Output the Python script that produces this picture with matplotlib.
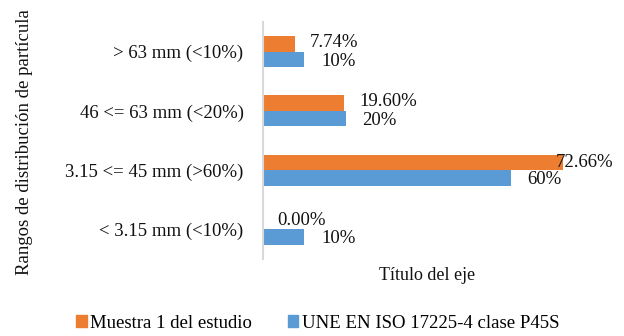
import numpy as np
import matplotlib.pyplot as plt
from matplotlib.patches import Patch

plt.rcParams["font.family"] = ["Liberation Serif", "DejaVu Serif"]

# categories bottom -> top (as drawn)
categories = ["< 3.15 mm (<10%)", "3.15 <= 45 mm (>60%)",
              "46 <= 63 mm (<20%)", "> 63 mm (<10%)"]
muestra = [0.00, 72.66, 19.60, 7.74]
une = [10, 60, 20, 10]
muestra_labels = ["0.00%", "72.66%", "19.60%", "7.74%"]
une_labels = ["10%", "60%", "20%", "10%"]

C_ORANGE = "#ED7D31"
C_BLUE = "#5B9BD5"
TXT = "#111111"

fig = plt.figure(figsize=(6.24, 3.36), dpi=100)
ax = fig.add_axes([263 / 624, 1 - 259 / 336, 330 / 624, 237 / 336])

y = np.arange(len(categories))
h = 0.262
ax.barh(y + h / 2, muestra, height=h, color=C_ORANGE)
ax.barh(y - h / 2, une, height=h, color=C_BLUE)
ax.set_xlim(0, 80)
ax.set_ylim(-0.5, len(categories) - 0.5)

fs = 13.5
xmax = ax.get_xlim()[1]
for yi, v, lab in zip(y, muestra, muestra_labels):
    if v > 0.85 * xmax:
        # label pushed back inside the chart area, as Excel does
        ax.annotate(lab, (1.062, yi + h / 2), xycoords=("axes fraction", "data"),
                    ha="right", va="center", fontsize=fs, color=TXT,
                    annotation_clip=False)
    else:
        ax.annotate(lab, (v, yi + h / 2 + 0.02), xytext=(11 if v > 0 else 10, 0),
                    textcoords="offset points", ha="left", va="center",
                    fontsize=fs, color=TXT)
for yi, v, lab in zip(y, une, une_labels):
    ax.annotate(lab, (v, yi - h / 2 - 0.03), xytext=(12, 0),
                textcoords="offset points", ha="left", va="center",
                fontsize=fs, color=TXT)

ax.set_yticks(y)
ax.set_yticklabels(categories, fontsize=fs, color=TXT)
ax.set_xticks([])
ax.tick_params(axis="y", length=0, pad=14)
for s in ["top", "right", "bottom"]:
    ax.spines[s].set_visible(False)
ax.spines["left"].set_color("#D9D9D9")
ax.spines["left"].set_linewidth(1.5)

fig.text(427 / 624, 1 - 275 / 336, "Título del eje", ha="center", va="center",
         fontsize=fs - 0.5, color=TXT)
fig.text(25 / 624, 1 - 142 / 336, "Rangos de distribución de partícula",
         ha="center", va="center", rotation=90, fontsize=fs, color=TXT)

handles = [Patch(color=C_ORANGE), Patch(color=C_BLUE)]
fig.legend(handles, ["Muestra 1 del estudio", "UNE EN ISO 17225-4 clase P45S"],
           loc="center", bbox_to_anchor=(318 / 624, 1 - 323 / 336), ncol=2,
           frameon=False, fontsize=fs, handlelength=0.55, handleheight=0.55,
           handletextpad=0.2, columnspacing=1.9)

fig.savefig("out.png", dpi=100)
